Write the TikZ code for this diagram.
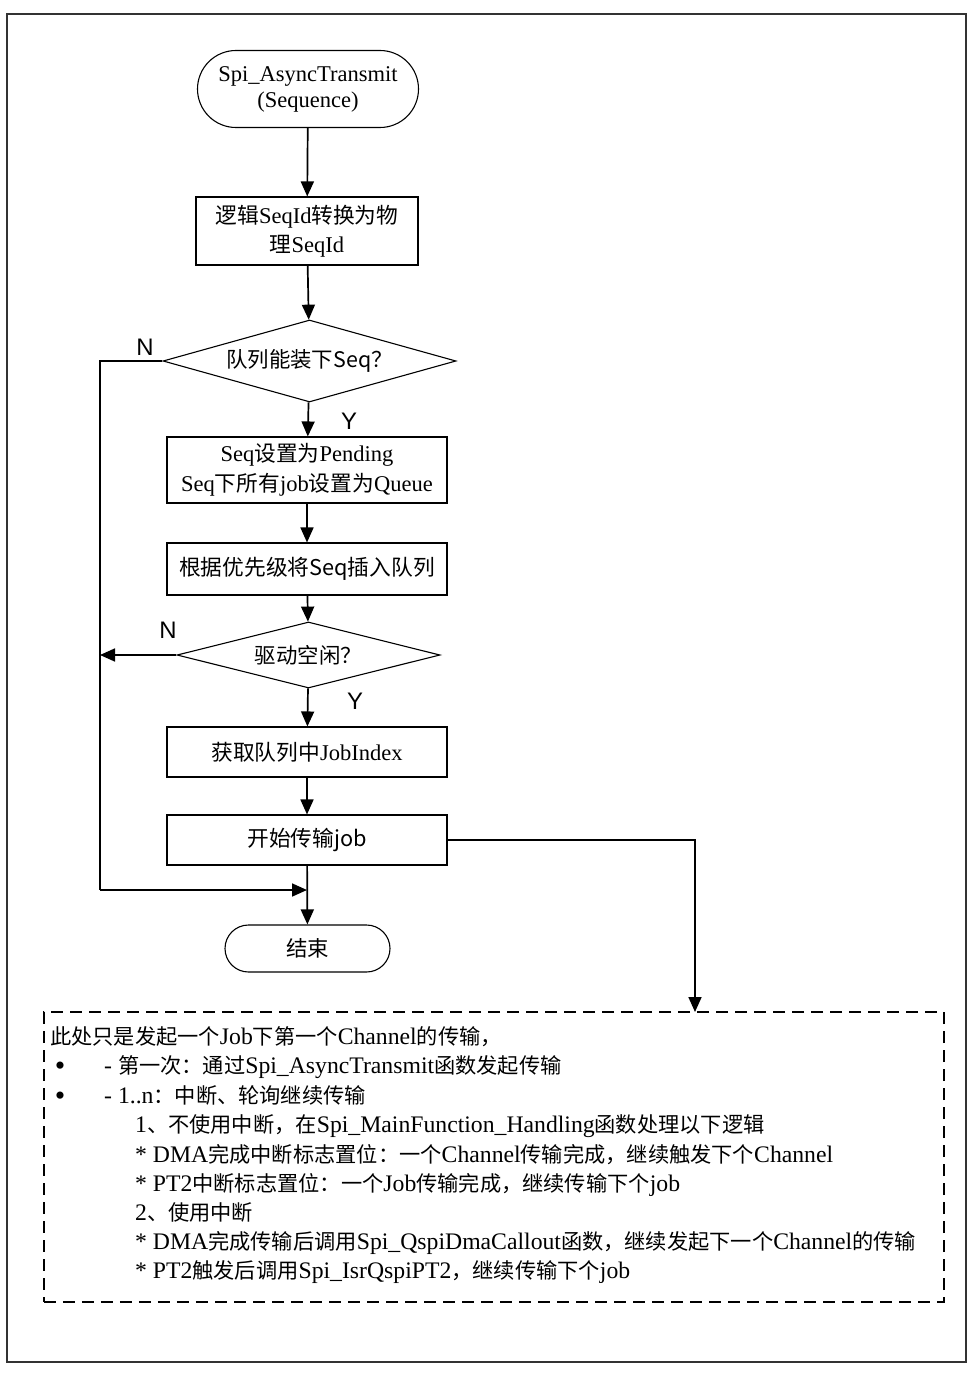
\documentclass[tikz,border=0pt]{standalone}
\usepackage{fontspec}
\setmainfont{Liberation Serif}
\newfontfamily\cjk{Noto Sans CJK SC}
\newfontfamily\lsans{Liberation Sans}
\usetikzlibrary{shapes.geometric,shapes.misc,arrows.meta}
\newcommand\zh[1]{{\cjk\fontsize{21.8}{29}\selectfont #1}}
\newcommand\zn[1]{{\cjk\fontsize{21.3}{29}\selectfont #1}}
\begin{document}
\begin{tikzpicture}[x=1bp,y=-1bp,
  proc/.style={draw,line width=1.1bp,inner sep=0pt,align=center,font=\fontsize{22.6}{29}\selectfont},
  sproc/.style={proc,font=\cjk\fontsize{21.8}{28}\selectfont},
  term/.style={rounded rectangle,draw,line width=1.1bp,inner sep=0pt,align=center},
  dec/.style={diamond,draw,line width=1.1bp,inner sep=0pt,font=\cjk\fontsize{21.5}{26}\selectfont},
  conn/.style={line width=1.7bp,-{Triangle[length=15bp,width=13bp]}},
  plain/.style={line width=1.7bp},
  lbl/.style={font=\lsans\fontsize{24}{24}\selectfont,inner sep=0pt},
  notetxt/.style={anchor=base west,inner sep=0pt,font=\fontsize{23.8}{26}\selectfont},
  bul/.style={anchor=base,inner sep=0pt,font=\fontsize{30}{30}\selectfont}]
\useasboundingbox (0,0) rectangle (971,1382);
\fill[white] (0,0) rectangle (971,1382);
\draw[line width=2bp,black!80] (7,14) rectangle (966,1362);

\node[term,minimum width=221bp,minimum height=77bp,font=\fontsize{22.6}{26}\selectfont] (s) at (308,89) {Spi\_AsyncTransmit\\(Sequence)};
\node[proc,minimum width=222bp,minimum height=68bp] (b1) at (307,231) {\zh{逻辑}SeqId\zh{转换为物}\\\zh{理}SeqId};
\node[dec,aspect=3.573,minimum width=293bp,minimum height=82bp] (d1) at (309.5,361) {队列能装下Seq？};
\node[proc,minimum width=280bp,minimum height=66bp,font=\fontsize{22.6}{30}\selectfont] (b2) at (307,470) {Seq\zh{设置为}Pending\\Seq\zh{下所有}job\zh{设置为}Queue};
\node[sproc,minimum width=280bp,minimum height=52bp] (b3) at (307,569) {根据优先级将Seq插入队列};
\node[dec,aspect=3.985,minimum width=263bp,minimum height=66bp] (d2) at (308.5,655) {驱动空闲？};
\node[proc,minimum width=280bp,minimum height=50bp] (b4) at (307,752) {\zh{获取队列中}JobIndex};
\node[sproc,minimum width=280bp,minimum height=50bp] (b5) at (307,840) {开始传输job};
\node[term,minimum width=165bp,minimum height=47bp,font=\cjk\fontsize{21.5}{26}\selectfont] (e) at (307.5,948.5) {结束};

\node[draw,dashed,dash pattern=on 12bp off 7bp,line width=1.5bp,minimum width=900bp,minimum height=290bp,inner sep=0pt] (note) at (494,1157) {};

\coordinate (l1) at (100,361);
\coordinate (l2) at (100,890);
\coordinate (mg) at (307,890);
\coordinate (l3) at (100,655);
\coordinate (nt) at (695,1012);

\draw[conn] (s) -- (b1);
\draw[conn] (b1) -- (d1);
\draw[conn] (d1) -- (b2);
\draw[conn] (b2) -- (b3);
\draw[conn] (b3) -- (d2);
\draw[conn] (d2) -- (b4);
\draw[conn] (b4) -- (b5);
\draw[conn] (b5) -- (e);
\draw[plain] (d1.west) -- (l1) -- (l2);
\draw[conn] (l2) -- (mg);
\draw[conn] (d2.west) -- (l3);
\draw[conn] (b5.east) -| (nt);

\node[lbl] (n1) at (145,347) {N};
\node[lbl] (y1) at (349,421) {Y};
\node[lbl] (n2) at (168,630) {N};
\node[lbl] (y2) at (355,701) {Y};

\node[notetxt] (t1) at (50,1044) {\zn{此处只是发起一个}Job\zn{下第一个}Channel\zn{的传输，}};
\node[bul] (u2) at (60,1075) {•};
\node[notetxt] (t2) at (104,1073) {- \zn{第一次：通过}Spi\_AsyncTransmit\zn{函数发起传输}};
\node[bul] (u3) at (60,1105) {•};
\node[notetxt] (t3) at (104,1103) {- 1..n\zn{：中断、轮询继续传输}};
\node[notetxt] (t4) at (135,1132) {1\zn{、不使用中断，在}Spi\_MainFunction\_Handling\zn{函数处理以下逻辑}};
\node[notetxt] (t5) at (135,1162) {* DMA\zn{完成中断标志置位：一个}Channel\zn{传输完成，继续触发下个}Channel};
\node[notetxt] (t6) at (135,1191) {* PT2\zn{中断标志置位：一个}Job\zn{传输完成，继续传输下个}job};
\node[notetxt] (t7) at (135,1220) {2\zn{、使用中断}};
\node[notetxt] (t8) at (135,1249) {* DMA\zn{完成传输后调用}Spi\_QspiDmaCallout\zn{函数，继续发起下一个}Channel\zn{的传输}};
\node[notetxt] (t9) at (135,1278) {* PT2\zn{触发后调用}Spi\_IsrQspiPT2\zn{，继续传输下个}job};
\end{tikzpicture}
\end{document}
